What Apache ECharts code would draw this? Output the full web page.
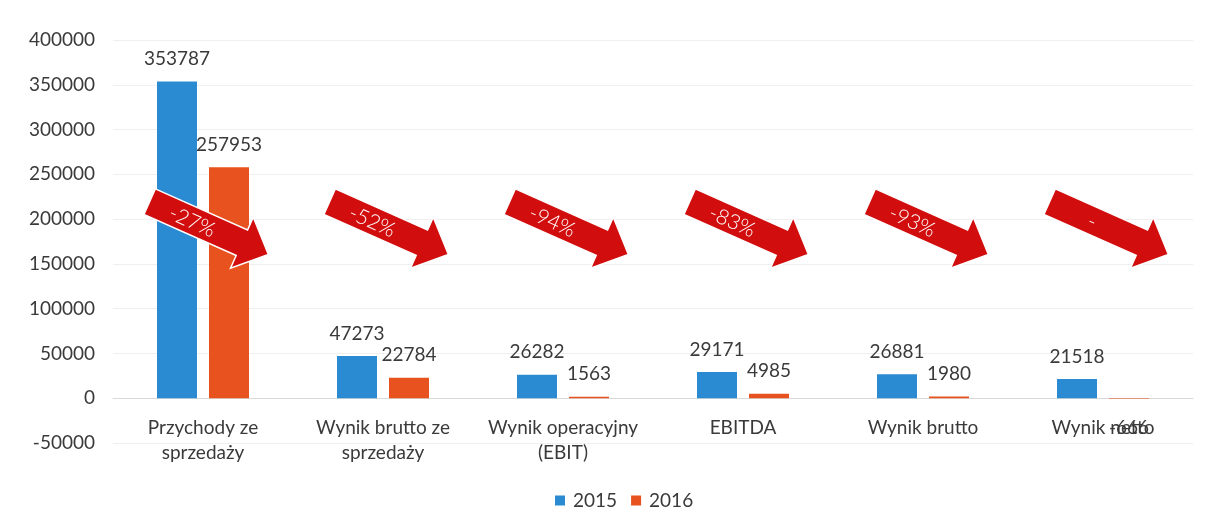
<!DOCTYPE html>
<html>
<head>
<meta charset="utf-8">
<script src="https://cdn.jsdelivr.net/npm/echarts@6/dist/echarts.min.js"></script>
<style>
  html, body { margin: 0; padding: 0; background: #fff; }
  #chart { width: 1209px; height: 526px; }
</style>
</head>
<body>
<div id="chart"></div>
<script>
// dane z wykresu
const categories = ['Przychody ze\nsprzedaży', 'Wynik brutto ze\nsprzedaży', 'Wynik operacyjny\n(EBIT)', 'EBITDA', 'Wynik brutto', 'Wynik netto'];
const values2015 = [353787, 47273, 26282, 29171, 26881, 21518];
const values2016 = [257953, 22784, 1563, 4985, 1980, -666];
const changeLabels = ['-27%', '-52%', '-94%', '-83%', '-93%', '-'];
const yMin = -50000;
const yMax = 400000;
const yStep = 50000;

const FONT = 'Lato, "Open Sans", sans-serif';
const TEXT = '#3a3a3a';
const ARROW_LEVEL = 190000; // wysokość strzałek na osi Y

const chart = echarts.init(document.getElementById('chart'));

// etykiety pod słupkiem dla wartości ujemnych
const toBarData = (arr) => arr.map(v => v < 0
  ? { value: v, label: { position: 'bottom', distance: 20 } }
  : v);

// strzałka w dół z procentem
function renderArrow(params, api) {
  const c = api.coord([api.value(0), api.value(1)]);
  const a = 24 * Math.PI / 180;
  const ux = Math.cos(a), uy = Math.sin(a);
  const vx = -Math.sin(a), vy = Math.cos(a);
  const cx = c[0] + 6, cy = c[1];
  const pt = (s, t) => [cx + s * ux + t * vx, cy + s * uy + t * vy];
  const shape = [
    pt(-65, -14), pt(36, -14), pt(36, -28), pt(65, 0),
    pt(36, 28), pt(36, 14), pt(-65, 14)
  ];
  const tp = pt(-18, 1);
  return {
    type: 'group',
    children: [
      {
        type: 'polygon',
        shape: { points: shape },
        style: { fill: '#D20D0D', stroke: '#fff', lineWidth: 1.5 }
      },
      {
        type: 'text',
        x: tp[0],
        y: tp[1],
        rotation: -a,
        style: {
          text: changeLabels[params.dataIndex],
          fill: '#fff',
          font: '300 21px ' + FONT,
          align: 'center',
          verticalAlign: 'middle'
        }
      }
    ]
  };
}

const barLabel = {
  show: true,
  position: 'top',
  distance: 13,
  color: TEXT,
  fontSize: 19,
  fontFamily: FONT
};

const option = {
  backgroundColor: '#fff',
  animation: false,
  textStyle: { fontFamily: FONT },
  grid: { left: 113, right: 16, top: 40, bottom: 83 },
  legend: {
    data: ['2015', '2016'],
    left: 550,
    top: 486,
    itemWidth: 10,
    itemHeight: 10,
    itemGap: 14,
    icon: 'rect',
    textStyle: { color: TEXT, fontSize: 19, fontFamily: FONT, padding: [0, 0, 0, 3] }
  },
  xAxis: {
    type: 'category',
    data: categories,
    axisLine: { onZero: true, lineStyle: { color: '#d9d9d9' } },
    axisTick: { show: false },
    axisLabel: {
      interval: 0,
      color: TEXT,
      fontSize: 19,
      lineHeight: 25,
      margin: -28,
      fontFamily: FONT
    }
  },
  yAxis: {
    type: 'value',
    min: yMin,
    max: yMax,
    interval: yStep,
    axisLine: { show: false },
    axisTick: { show: false },
    axisLabel: { color: TEXT, fontSize: 19, margin: 18, fontFamily: FONT, formatter: v => String(v) },
    splitLine: { lineStyle: { color: '#efefef' } }
  },
  series: [
    {
      name: '2015',
      type: 'bar',
      data: toBarData(values2015),
      barWidth: 40,
      barGap: '30%',
      itemStyle: { color: '#2A8AD2' },
      label: barLabel
    },
    {
      name: '2016',
      type: 'bar',
      data: toBarData(values2016),
      barWidth: 40,
      itemStyle: { color: '#E8521E' },
      label: barLabel
    },
    {
      type: 'custom',
      renderItem: renderArrow,
      data: categories.map((c, i) => [i, ARROW_LEVEL]),
      encode: { x: 0, y: 1 },
      silent: true,
      z: 10
    }
  ]
};

chart.setOption(option);
</script>
</body>
</html>
